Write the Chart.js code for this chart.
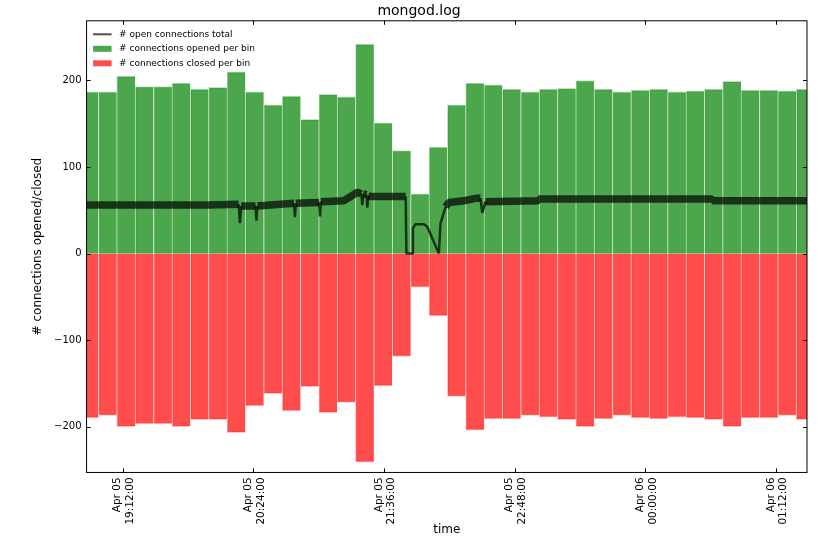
<!DOCTYPE html>
<html>
<head>
<meta charset="utf-8">
<title>mongod.log</title>
<script src="https://cdn.jsdelivr.net/npm/chart.js@4.4.0/dist/chart.umd.min.js"></script>
<style>
  html, body { margin: 0; padding: 0; background: #fff; }
  #chart { display: block; }
</style>
</head>
<body>
<canvas id="chart" width="821" height="541"></canvas>
<script>
// all times are minutes after Apr 05 00:00
const binCenters = [1133.7, 1143.8, 1153.9, 1164.0, 1174.2, 1184.3, 1194.4, 1204.5, 1214.6, 1224.7,
  1234.9, 1245.0, 1255.1, 1265.2, 1275.3, 1285.4, 1295.5, 1305.7, 1315.8, 1325.9,
  1336.0, 1346.1, 1356.2, 1366.3, 1376.5, 1386.6, 1396.7, 1406.8, 1416.9, 1427.0,
  1437.2, 1447.3, 1457.4, 1467.5, 1477.6, 1487.7, 1497.8, 1508.0, 1518.1, 1528.2];
const openedPerBin = [187, 187, 205, 193, 193, 197, 190, 192, 210, 187,
  172, 182, 155, 184, 181, 242, 151, 119, 69, 123,
  172, 197, 195, 190, 187, 190, 191, 200, 190, 187,
  189, 190, 187, 188, 190, 199, 189, 189, 188, 190];
const closedPerBin = [-190, -187, -200, -197, -197, -200, -192, -192, -207, -176,
  -162, -182, -154, -184, -172, -241, -153, -119, -39, -72,
  -165, -204, -191, -191, -187, -189, -192, -200, -191, -187,
  -190, -191, -189, -190, -192, -200, -190, -190, -187, -192];

const lineTimes = [1132.2, 1199.5, 1216.0, 1216.7, 1217.4, 1225.3, 1225.8, 1226.3, 1246.5, 1247.0,
  1247.5, 1260.3, 1260.8, 1261.3, 1273.8, 1279.3, 1281.4, 1283.6, 1284.1, 1284.6,
  1286.4, 1286.9, 1287.4, 1288.7, 1308.0, 1308.4, 1311.6, 1312.0, 1313.4, 1318.0,
  1319.9, 1326.3, 1327.2, 1330.0, 1331.8, 1340.0, 1347.4, 1349.2, 1350.2, 1352.0,
  1381.0, 1381.3, 1476.8, 1477.2, 1529.1];
const openTotal = [56, 56, 57, 35, 55, 55, 38, 55, 58, 42,
  58, 59, 43, 60, 61, 68, 71, 69, 56, 69,
  68, 53, 67, 66, 66, 0, 0, 29, 34, 34,
  31, 0, 35, 54, 59, 61, 64, 64, 47, 60,
  61, 63, 63, 61, 61];

const xTickValues = [1152, 1224, 1296, 1368, 1440, 1512];
const xTickLabels = [["Apr 05", "19:12:00"], ["Apr 05", "20:24:00"], ["Apr 05", "21:36:00"],
  ["Apr 05", "22:48:00"], ["Apr 06", "00:00:00"], ["Apr 06", "01:12:00"]];
const yTickValues = [-200, -100, 0, 100, 200];

Chart.defaults.font.family = "'DejaVu Sans', sans-serif";
Chart.defaults.color = "#000";

// thick band where the count is steady, thin where it jumps
function segWidth(c) {
  const a = c.p0.parsed.y, b = c.p1.parsed.y;
  return (a >= 50 && b >= 50 && Math.abs(a - b) < 10) ? 7.5 : 2.5;
}

// matplotlib style box with inward ticks, plus the legend in the top left corner
const frame = {
  id: "frame",
  afterDatasetsDraw(chart) {
    const { ctx, chartArea: a, scales: { x, y } } = chart;
    ctx.save();
    ctx.strokeStyle = "#000";
    ctx.lineWidth = 1;
    ctx.strokeRect(a.left, a.top, a.right - a.left, a.bottom - a.top);
    ctx.beginPath();
    x.ticks.forEach(t => {
      const px = Math.round(x.getPixelForValue(t.value)) + 0.5;
      ctx.moveTo(px, a.bottom); ctx.lineTo(px, a.bottom - 4);
      ctx.moveTo(px, a.top); ctx.lineTo(px, a.top + 4);
    });
    y.ticks.forEach(t => {
      const py = Math.round(y.getPixelForValue(t.value)) + 0.5;
      ctx.moveTo(a.left, py); ctx.lineTo(a.left + 4, py);
      ctx.moveTo(a.right, py); ctx.lineTo(a.right - 4, py);
    });
    ctx.stroke();

    // legend
    ctx.font = "9px 'DejaVu Sans', sans-serif";
    ctx.textBaseline = "middle";
    ctx.textAlign = "left";
    chart.data.datasets.forEach((ds, i) => {
      const cy = a.top + 13.5 + i * 14.5;
      const x0 = a.left + 6.5;
      if (ds.type === "line") {
        ctx.strokeStyle = ds.borderColor;
        ctx.lineWidth = 2;
        ctx.beginPath();
        ctx.moveTo(x0, cy); ctx.lineTo(x0 + 18.5, cy);
        ctx.stroke();
      } else {
        ctx.fillStyle = ds.backgroundColor;
        ctx.fillRect(x0, cy - 3, 18.5, 6);
      }
      ctx.fillStyle = "#000";
      ctx.fillText(ds.label, a.left + 32.5, cy);
    });
    ctx.restore();
  }
};

const ctx = document.getElementById("chart").getContext("2d");
new Chart(ctx, {
  type: "bar",
  data: {
    datasets: [
      {
        type: "line",
        label: "# open connections total",
        data: lineTimes.map((t, i) => ({ x: t, y: openTotal[i] })),
        borderColor: "rgba(0,0,0,0.7)",
        borderWidth: 2.5,
        borderJoinStyle: "bevel",
        pointRadius: 0,
        tension: 0,
        order: 0,
        clip: 0,
        segment: { borderWidth: segWidth }
      },
      {
        label: "# connections opened per bin",
        data: binCenters.map((t, i) => ({ x: t, y: openedPerBin[i] })),
        backgroundColor: "rgba(0,128,0,0.7)",
        borderColor: "#c4e2c4",
        borderWidth: { left: 1, top: 1, bottom: 1, right: 0 },
        borderSkipped: "start",
        grouped: false,
        barPercentage: 1,
        categoryPercentage: 1,
        order: 1,
        clip: 0
      },
      {
        label: "# connections closed per bin",
        data: binCenters.map((t, i) => ({ x: t, y: closedPerBin[i] })),
        backgroundColor: "rgba(255,0,0,0.7)",
        borderColor: "#ffc4c4",
        borderWidth: { left: 1, top: 1, bottom: 1, right: 0 },
        borderSkipped: "start",
        grouped: false,
        barPercentage: 1,
        categoryPercentage: 1,
        order: 2,
        clip: 0
      }
    ]
  },
  options: {
    responsive: false,
    animation: false,
    layout: { padding: { left: 31, right: 14, top: 0, bottom: 4 } },
    plugins: {
      title: {
        display: true,
        text: "mongod.log",
        color: "#000",
        font: { size: 14, weight: "normal" },
        padding: { top: 2.5, bottom: 1.5 }
      },
      legend: { display: false },
      tooltip: { enabled: false }
    },
    scales: {
      x: {
        type: "linear",
        min: 1132.2,
        max: 1529.1,
        offset: false,
        grid: { display: false, drawTicks: false, offset: false },
        border: { display: false },
        afterBuildTicks: s => { s.ticks = xTickValues.map(v => ({ value: v })); },
        ticks: {
          autoSkip: false,
          minRotation: 90,
          maxRotation: 90,
          padding: 5,
          labelOffset: -5,
          font: { size: 10.5 },
          callback: v => xTickLabels[xTickValues.indexOf(v)]
        },
        title: { display: true, text: "time", font: { size: 12 }, padding: { top: -7, bottom: 0 } }
      },
      y: {
        min: -253,
        max: 269,
        grid: { display: false, drawTicks: false },
        border: { display: false },
        afterBuildTicks: s => { s.ticks = yTickValues.map(v => ({ value: v })); },
        ticks: {
          padding: 5,
          font: { size: 10 },
          callback: v => v < 0 ? "\u2212" + (-v) : String(v)
        },
        title: { display: true, text: "# connections opened/closed", font: { size: 12 }, padding: { top: 0, bottom: 3.7 } }
      }
    }
  },
  plugins: [frame]
});
</script>
</body>
</html>
